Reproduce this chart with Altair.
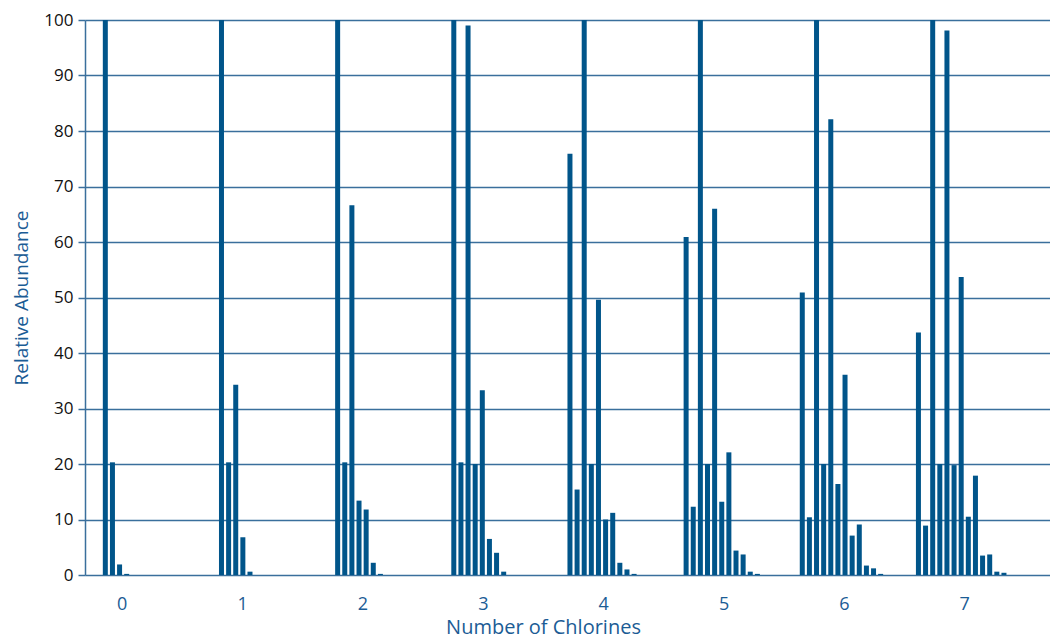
import altair as alt
import pandas as pd

# Relative abundance of each isotope peak (M, M+1, M+2, ...) per number of chlorines
CHLORINES = [0, 1, 2, 3, 4, 5, 6, 7]
ABUND_0 = [100, 20.3, 1.9, 0.2]
ABUND_1 = [100, 20.3, 34.3, 6.8, 0.6]
ABUND_2 = [100, 20.3, 66.6, 13.4, 11.8, 2.2, 0.2]
ABUND_3 = [100, 20.3, 99.0, 20.0, 33.3, 6.5, 4.0, 0.6]
ABUND_4 = [75.9, 15.4, 100, 20.0, 49.6, 10.0, 11.2, 2.2, 1.0, 0.2]
ABUND_5 = [60.9, 12.3, 100, 20.0, 66.0, 13.2, 22.1, 4.4, 3.7, 0.6, 0.2]
ABUND_6 = [50.9, 10.4, 100, 20.0, 82.1, 16.4, 36.1, 7.1, 9.1, 1.7, 1.2, 0.2]
ABUND_7 = [43.7, 8.9, 100, 20.0, 98.1, 19.8, 53.7, 10.5, 17.9, 3.5, 3.7, 0.6, 0.4]
GROUPS = [ABUND_0, ABUND_1, ABUND_2, ABUND_3, ABUND_4, ABUND_5, ABUND_6, ABUND_7]

# layout constants (in mass-unit steps)
GROUP_STEP = 16.3
LABEL_OFFSET = 2.3
LABEL_STEP = 16.89

rows = []
for n, vals in zip(CHLORINES, GROUPS):
    for k, v in enumerate(vals):
        rows.append({"chlorines": n, "peak": k, "pos": n * GROUP_STEP + k, "abundance": v})
df = pd.DataFrame(rows)

label_vals = [LABEL_OFFSET + LABEL_STEP * n for n in CHLORINES]

BAR = "#01558a"
GRID = "#3a6f9c"
TEXT_BLUE = "#1b5c95"
FONT = "Open Sans"

chart = alt.Chart(df).mark_bar(size=5, color=BAR).encode(
    x=alt.X(
        "pos:Q",
        scale=alt.Scale(domain=[-2.15, 131.86], nice=False, zero=False),
        axis=alt.Axis(
            values=label_vals,
            labelExpr="format(round((datum.value - 2.3) / 16.89), 'd')",
            grid=False, domain=False, ticks=False,
            labelPadding=20, labelFontSize=18, labelColor=TEXT_BLUE, labelFont=FONT,
            title="Number of Chlorines", titleFontSize=20, titleFontWeight="normal",
            titleColor=TEXT_BLUE, titleFont=FONT, titlePadding=4, titleX=458,
        ),
    ),
    y=alt.Y(
        "abundance:Q",
        scale=alt.Scale(domain=[0, 100], nice=False),
        axis=alt.Axis(
            values=list(range(0, 101, 10)),
            grid=True, gridColor=GRID, gridWidth=1.5, gridOpacity=1,
            domain=True, domainColor=GRID, domainWidth=1.5,
            ticks=True, tickSize=7, tickColor=GRID, tickWidth=1.5,
            labelPadding=5, labelFontSize=17, labelColor="#111111", labelFont=FONT,
            title="Relative Abundance", titleFontSize=19, titleFontWeight="normal",
            titleColor=TEXT_BLUE, titleFont=FONT, titlePadding=12,
        ),
    ),
).properties(
    width=965,
    height=555,
    autosize=alt.AutoSizeParams(type="none"),
    padding={"left": 77, "top": 12, "right": 0, "bottom": 64},
).configure_view(stroke=None)

chart.save("out.html", embed_options={"renderer": "svg", "actions": False})
